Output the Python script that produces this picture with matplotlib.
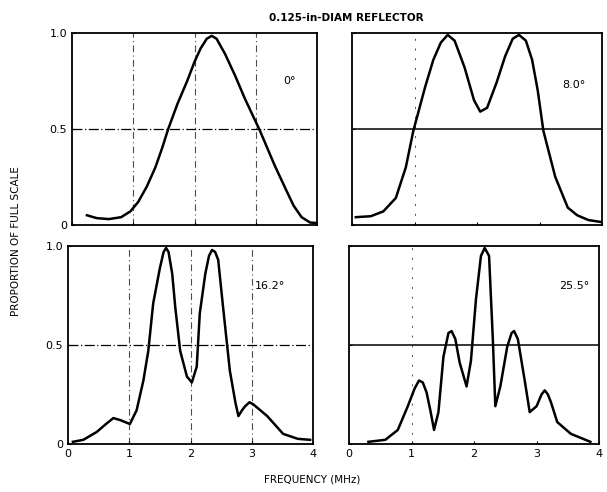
import numpy as np
import matplotlib.pyplot as plt

# 0 degrees
f0 = [0.24, 0.40, 0.60, 0.80, 0.95, 1.08, 1.22, 1.36, 1.47, 1.57, 1.72, 1.88, 2.00, 2.10, 2.20, 2.28, 2.36, 2.50, 2.66, 2.82, 3.07, 3.31, 3.50, 3.62, 3.75, 3.89, 3.98]
a0 = [0.05, 0.035, 0.03, 0.04, 0.07, 0.12, 0.20, 0.30, 0.40, 0.50, 0.63, 0.75, 0.85, 0.92, 0.97, 0.985, 0.97, 0.89, 0.78, 0.66, 0.49, 0.31, 0.18, 0.10, 0.04, 0.012, 0.01]

# 8.0 degrees
f8 = [0.06, 0.30, 0.50, 0.70, 0.86, 0.98, 1.17, 1.30, 1.42, 1.53, 1.64, 1.80, 1.95, 2.05, 2.16, 2.31, 2.45, 2.57, 2.67, 2.78, 2.88, 2.97, 3.06, 3.25, 3.45, 3.60, 3.78, 3.98]
a8 = [0.04, 0.045, 0.07, 0.14, 0.30, 0.49, 0.72, 0.86, 0.95, 0.99, 0.96, 0.82, 0.65, 0.59, 0.61, 0.74, 0.88, 0.97, 0.99, 0.96, 0.86, 0.70, 0.49, 0.25, 0.09, 0.05, 0.025, 0.015]

# 16.2 degrees
f16 = [0.08, 0.25, 0.47, 0.62, 0.74, 0.85, 1.01, 1.12, 1.23, 1.31, 1.39, 1.50, 1.56, 1.60, 1.64, 1.70, 1.75, 1.83, 1.94, 2.02, 2.10, 2.15, 2.24, 2.30, 2.35, 2.40, 2.45, 2.53, 2.64, 2.73, 2.78, 2.84, 2.89, 2.96, 3.02, 3.25, 3.51, 3.75, 3.95]
a16 = [0.01, 0.02, 0.06, 0.10, 0.13, 0.12, 0.10, 0.17, 0.32, 0.47, 0.71, 0.89, 0.97, 0.99, 0.97, 0.86, 0.69, 0.47, 0.34, 0.31, 0.39, 0.66, 0.86, 0.95, 0.98, 0.97, 0.93, 0.69, 0.37, 0.21, 0.14, 0.17, 0.19, 0.21, 0.20, 0.14, 0.05, 0.025, 0.02]

# 25.5 degrees
f25 = [0.31, 0.58, 0.78, 0.94, 1.05, 1.12, 1.18, 1.24, 1.30, 1.36, 1.43, 1.51, 1.59, 1.64, 1.70, 1.77, 1.88, 1.95, 2.03, 2.11, 2.17, 2.24, 2.30, 2.34, 2.42, 2.53, 2.60, 2.64, 2.70, 2.81, 2.89, 3.00, 3.08, 3.13, 3.18, 3.23, 3.33, 3.55, 3.86]
a25 = [0.01, 0.02, 0.07, 0.19, 0.28, 0.32, 0.31, 0.26, 0.17, 0.07, 0.16, 0.44, 0.56, 0.57, 0.53, 0.41, 0.29, 0.42, 0.73, 0.95, 0.99, 0.95, 0.53, 0.19, 0.29, 0.49, 0.56, 0.57, 0.53, 0.32, 0.16, 0.19, 0.25, 0.27, 0.25, 0.21, 0.11, 0.05, 0.01]

angles = ["0°", "8.0°", "16.2°", "25.5°"]
label_pos = [(3.56, 0.75), (3.55, 0.73), (3.3, 0.80), (3.6, 0.80)]

fig = plt.figure(figsize=(6.07, 4.92), dpi=100)
boxes = [
    [0.119, 0.543, 0.403, 0.390],
    [0.580, 0.543, 0.412, 0.390],
    [0.112, 0.098, 0.404, 0.402],
    [0.575, 0.098, 0.412, 0.402],
]
series = [(f0, a0), (f8, a8), (f16, a16), (f25, a25)]

for i, (box, (f, a)) in enumerate(zip(boxes, series)):
    ax = fig.add_axes(box)
    left = i % 2 == 0
    bottom = i >= 2
    if left:
        for xv in [1, 2, 3]:
            ax.axvline(xv, color="k", lw=0.8, ls=(0, (6, 3, 1, 3)), alpha=0.7)
        ax.axhline(0.5, color="k", lw=0.9, ls=(0, (8, 2, 1, 2)))
    else:
        ax.axvline(1, color="k", lw=0.7, ls=(0, (2, 8)), alpha=0.7)
        ax.axhline(0.5, color="k", lw=1.1)
    ax.plot(f, a, color="k", lw=1.8, solid_joinstyle="round")
    ax.text(label_pos[i][0], label_pos[i][1], angles[i], fontsize=8,
            ha="center", va="center")
    ax.set_xlim(0, 4)
    ax.set_ylim(0, 1.0)
    ax.set_xticks([0, 1, 2, 3, 4])
    ax.set_yticks([0, 0.5, 1.0])
    ax.set_yticklabels(["0", "0.5", "1.0"])
    ax.tick_params(length=2, labelsize=8, direction="in")
    if not bottom:
        ax.set_xticklabels([])
    if not left:
        ax.set_yticklabels([])
    for s in ax.spines.values():
        s.set_linewidth(1.3)

fig.text(0.57, 0.963, "0.125-in-DIAM REFLECTOR", ha="center", va="center",
         fontsize=7.5, fontweight="bold")
fig.text(0.027, 0.51, "PROPORTION OF FULL SCALE", rotation=90, ha="center",
         va="center", fontsize=7.5)
fig.text(0.515, 0.025, "FREQUENCY (MHz)", ha="center", va="center", fontsize=7.5)

fig.savefig("out.png", dpi=100)
